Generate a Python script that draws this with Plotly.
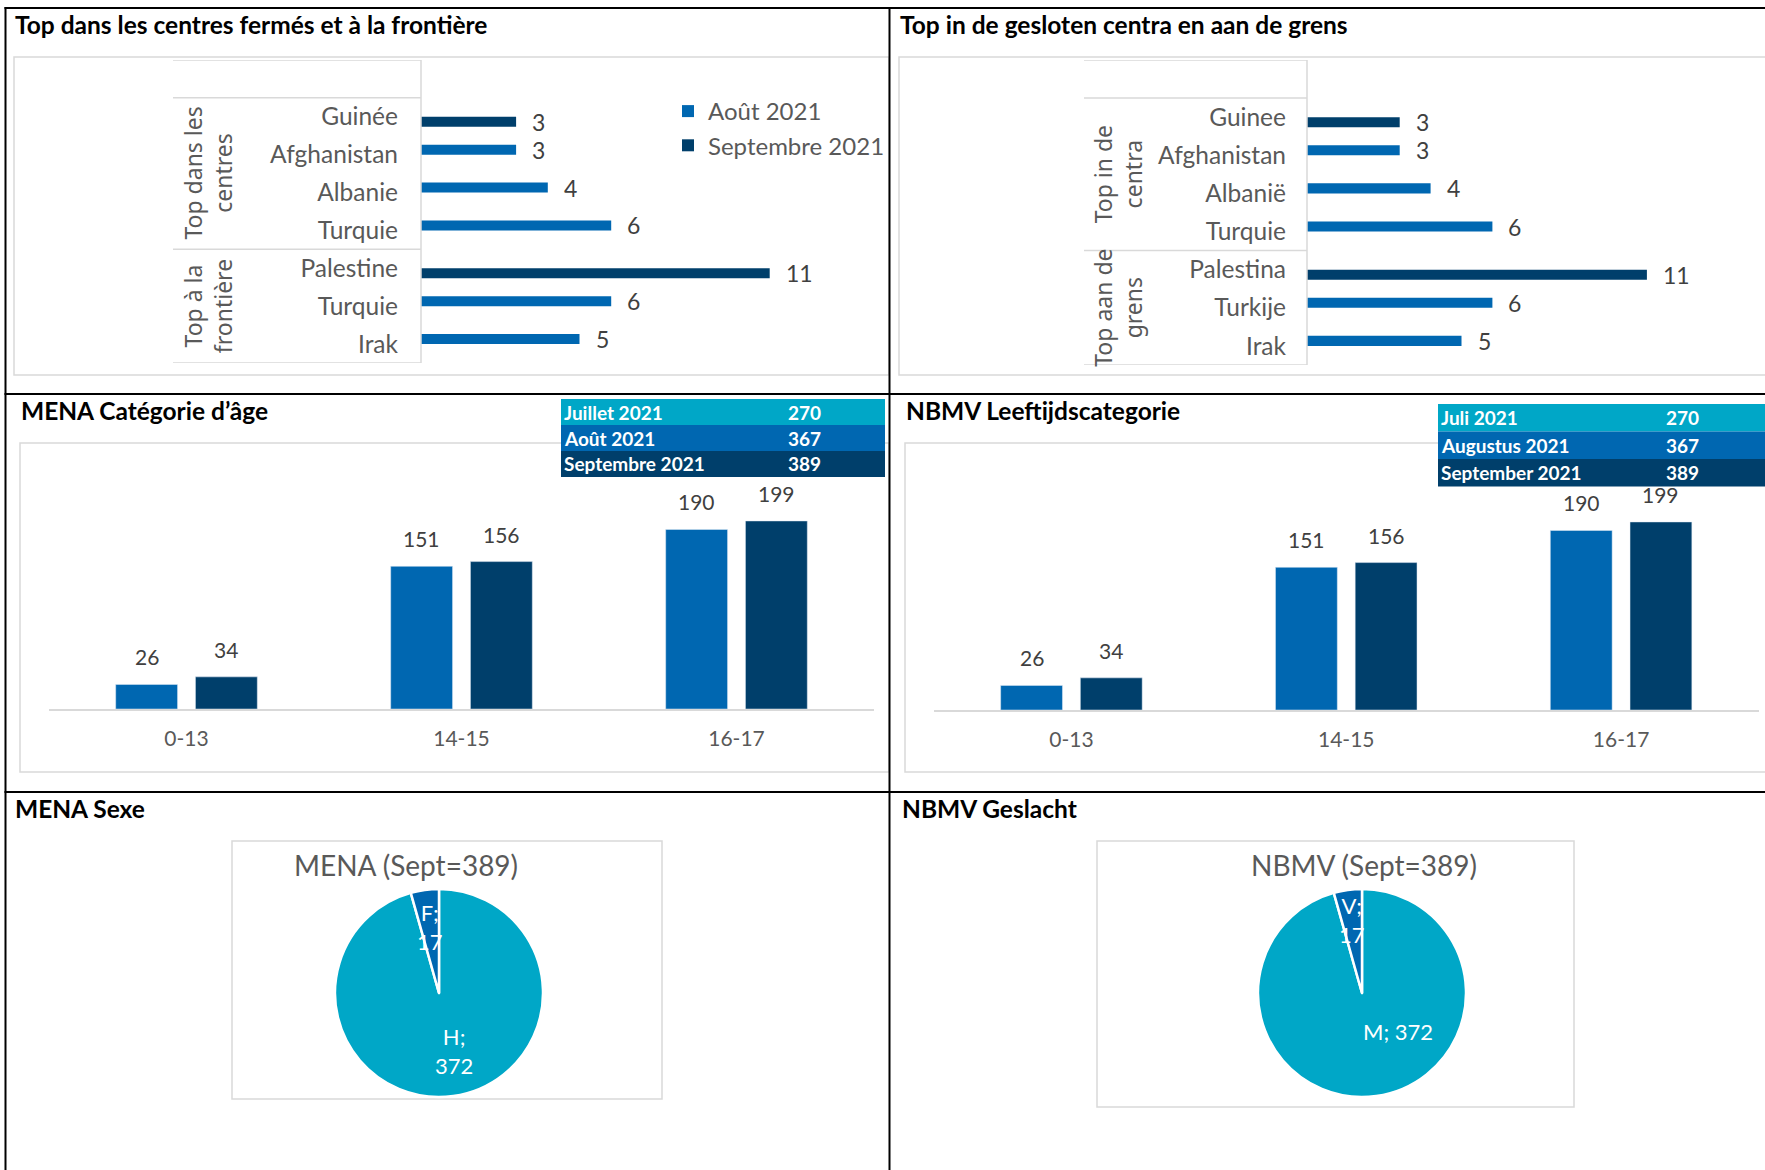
import plotly.graph_objects as go

# ---- data -------------------------------------------------------------
titles_fr = ["Top dans les centres fermés et à la frontière", "MENA Catégorie d’âge", "MENA Sexe"]
titles_nl = ["Top in de gesloten centra en aan de grens", "NBMV Leeftijdscategorie", "NBMV Geslacht"]

groups_fr = [["Top dans les", "centres"], ["Top à la", "frontière"]]
groups_nl = [["Top in de", "centra"], ["Top aan de", "grens"]]
group_sizes = [4, 3]

countries_fr = ["Guinée", "Afghanistan", "Albanie", "Turquie", "Palestine", "Turquie", "Irak"]
countries_nl = ["Guinee", "Afghanistan", "Albanië", "Turquie", "Palestina", "Turkije", "Irak"]
top_aout = [None, 3, 4, 6, None, 6, 5]
top_sept = [3, None, None, None, 11, None, None]
series_fr = ["Août 2021", "Septembre 2021"]

age_cats = ["0-13", "14-15", "16-17"]
age_aout = [26, 151, 190]
age_sept = [34, 156, 199]

months_fr = ["Juillet 2021", "Août 2021", "Septembre 2021"]
months_nl = ["Juli 2021", "Augustus 2021", "September 2021"]
month_totals = [270, 367, 389]

sex_fr = ["F", "H"]
sex_nl = ["V", "M"]
sex_values = [17, 372]
pie_titles = ["MENA (Sept=389)", "NBMV (Sept=389)"]

# ---- style ------------------------------------------------------------
W, H = 1765, 1170
TEAL, BLUE, NAVY = "#00A7C7", "#0067B1", "#003F6B"
GRID = "#D9D9D9"
GREY = "#595959"
FONT = "Lato"
GFONT = "Noto Sans"


def X(p):
    return p / W


def Y(p):
    return 1 - p / H


fig = go.Figure()
shapes, annots = [], []


def line(x0, y0, x1, y1, color="black", width=2, xref="paper", yref="paper"):
    shapes.append(dict(type="line", x0=x0, y0=y0, x1=x1, y1=y1, xref=xref, yref=yref,
                       line=dict(color=color, width=width)))


def box(x0, y0, x1, y1, color=GRID, fill=None, width=1.5):
    shapes.append(dict(type="rect", x0=X(x0), x1=X(x1), y0=Y(y1), y1=Y(y0), xref="paper", yref="paper",
                       line=dict(color=color, width=width if fill is None else 0),
                       fillcolor=fill if fill else "rgba(0,0,0,0)",
                       layer="above" if fill else "below"))


def text(x, y, s, size, color=GREY, bold=False, family=FONT, xanchor="left", **kw):
    annots.append(dict(x=x, y=y, xref=kw.pop("xref", "paper"), yref=kw.pop("yref", "paper"), text=s,
                       showarrow=False, xanchor=xanchor, yanchor=kw.pop("yanchor", "middle"),
                       font=dict(family=family, size=size, color=color,
                                 weight="bold" if bold else "normal"), **kw))


# ---- panel frames ----------------------------------------------------
box(14, 57, 889, 375)
box(899, 57, 1780, 375)
box(20, 443, 889, 772)
box(905, 443, 1780, 772)
box(232, 841, 662, 1099)
box(1097, 841, 1574, 1107)


# ---- horizontal "top" charts -----------------------------------------
def top_chart(n, countries, groups, x_axis_px, unit, table_left, y_top, y_bot, group_x, standoff, legend):
    xa, ya = ("x", "y") if n == 1 else (f"x{n}", f"y{n}")
    idx = list(range(len(countries)))
    for vals, col, name, off in ((top_aout, BLUE, series_fr[0], -0.264), (top_sept, NAVY, series_fr[1], 0.0)):
        fig.add_trace(go.Bar(x=vals, y=idx, orientation="h", width=0.264, offset=off,
                             marker=dict(color=col, line=dict(width=0)), name=name,
                             showlegend=legend, xaxis=xa, yaxis=ya, hoverinfo="x+y"))
        for i, v in enumerate(vals):
            if v is not None:
                text(v, i + off + 0.132, str(v), 23, color="#404040", xref=xa, yref=ya, xshift=14)
    key = "" if n == 1 else str(n)
    fig.layout["xaxis" + key] = dict(domain=[X(x_axis_px), X(x_axis_px + unit * 14)], range=[0, 14],
                                     visible=False, anchor=ya, fixedrange=True)
    fig.layout["yaxis" + key] = dict(domain=[Y(y_bot), Y(y_top)], range=[6.5, -1.5], anchor=xa,
                                     tickvals=idx, ticktext=countries, showgrid=False, zeroline=False,
                                     showline=False, ticks="", ticklabelstandoff=standoff,
                                     tickfont=dict(family=FONT, size=24.5, color=GREY))
    # category table lines
    bounds = [-1.5, -0.5]
    acc = -0.5
    for g in group_sizes:
        acc += g
        bounds.append(acc)
    for b in bounds:
        line(X(table_left), b, X(x_axis_px), b, color=GRID, width=1.5, yref=ya)
    line(X(x_axis_px), -1.5, X(x_axis_px), 6.5, color=GRID, width=1.5, yref=ya)
    start = 0
    for g, lab in zip(group_sizes, groups):
        text(X(group_x), start + (g - 1) / 2, "<br>".join(lab), 23, family=GFONT, xanchor="center",
             yref=ya, textangle=-90)
        start += g


top_chart(1, countries_fr, groups_fr, 421, 31.7, 173, 60, 363, 208, 22, True)
top_chart(2, countries_nl, groups_nl, 1307, 30.9, 1084, 60, 365, 1118, 20, False)


# ---- age category charts ---------------------------------------------
def age_chart(n, x0, x1, base, tbl_x0, tbl_x1, tbl_y, row_h, val_x, months):
    xa, ya = f"x{n}", f"y{n}"
    for vals, col, off in ((age_aout, BLUE, -0.2575), (age_sept, NAVY, 0.0325)):
        fig.add_trace(go.Bar(x=age_cats, y=vals, width=0.225, offset=off, marker=dict(color=col),
                             showlegend=False, xaxis=xa, yaxis=ya, hoverinfo="x+y"))
        for i, v in enumerate(vals):
            text(i + off + 0.1125, v, str(v), 21, color="#404040", xanchor="center", xref=xa, yref=ya,
                 yanchor="bottom", yshift=13)
    fig.layout[f"xaxis{n}"] = dict(domain=[X(x0), X(x1)], type="category", range=[-0.5, 2.5], anchor=ya,
                                   showline=True, linecolor=GRID, linewidth=1.5, showgrid=False, ticks="",
                                   ticklabelstandoff=10, tickfont=dict(family=FONT, size=21, color=GREY))
    fig.layout[f"yaxis{n}"] = dict(domain=[Y(base), Y(443)], range=[0, (base - 443) / 0.945],
                                   visible=False, anchor=xa)
    # monthly totals table
    for k, (m, t, col) in enumerate(zip(months, month_totals, (TEAL, BLUE, NAVY))):
        y0 = tbl_y + k * row_h
        box(tbl_x0, y0, tbl_x1, y0 + row_h, fill=col)
        text(X(tbl_x0 + 0.5), Y(y0 + row_h / 2), m, 19, color="white", bold=True)
        text(X(val_x), Y(y0 + row_h / 2), str(t), 19, color="white", bold=True)


age_chart(3, 49, 874, 709, 561, 885, 399, 26, 786, months_fr)
age_chart(4, 934, 1758.5, 710, 1438, 1765, 404, 27.5, 1664, months_nl)


# ---- sex pies --------------------------------------------------------
def pie(cx, cy, labels, title, title_x, lab_pos):
    r = 104
    # large slice first, running clockwise from 12 o'clock, so the small slice
    # ends up just left of the top
    fig.add_trace(go.Pie(values=sex_values[::-1], labels=labels[::-1], sort=False, direction="clockwise",
                         rotation=0, textinfo="none", showlegend=False,
                         marker=dict(colors=[TEAL, BLUE], line=dict(color="white", width=2.5)),
                         domain=dict(x=[X(cx - r), X(cx + r)], y=[Y(cy + r), Y(cy - r)])))
    text(X(title_x), Y(865), title, 28, xanchor="center")
    for (px, py, sep), lab, v in zip(lab_pos, labels, sex_values):
        text(X(px), Y(py), f"{lab};{sep}{v}", 22, color="white", xanchor="center")


pie(439, 993, sex_fr, pie_titles[0], 406, [(430, 927, "<br>"), (454, 1051, "<br>")])
pie(1362, 993, sex_nl, pie_titles[1], 1364, [(1352, 920, "<br>"), (1398, 1031, " ")])

# ---- panel titles ----------------------------------------------------
for t, (x, y) in zip(titles_fr, ((13, 24), (19, 411), (13, 808))):
    text(X(x), Y(y), t, 24.5, color="black", bold=True)
for t, (x, y) in zip(titles_nl, ((898, 24), (904, 411), (900, 808))):
    text(X(x), Y(y), t, 24.5, color="black", bold=True)

# outer grid of the report page
line(X(4.5), Y(8), X(W), Y(8))
line(X(5.5), Y(7), X(5.5), Y(H))
line(X(889.5), Y(7), X(889.5), Y(H))
line(X(4.5), Y(394), X(W), Y(394))
line(X(4.5), Y(792), X(W), Y(792))

fig.update_layout(
    width=W, height=H, autosize=False, margin=dict(l=0, r=0, t=0, b=0),
    paper_bgcolor="white", plot_bgcolor="rgba(0,0,0,0)", barmode="overlay",
    shapes=shapes, annotations=annots,
    legend=dict(x=X(668), y=Y(89), xanchor="left", yanchor="top", bgcolor="rgba(0,0,0,0)",
                font=dict(family=FONT, size=24, color=GREY), tracegroupgap=0),
    font=dict(family=FONT),
)

fig.write_html("out.html")
